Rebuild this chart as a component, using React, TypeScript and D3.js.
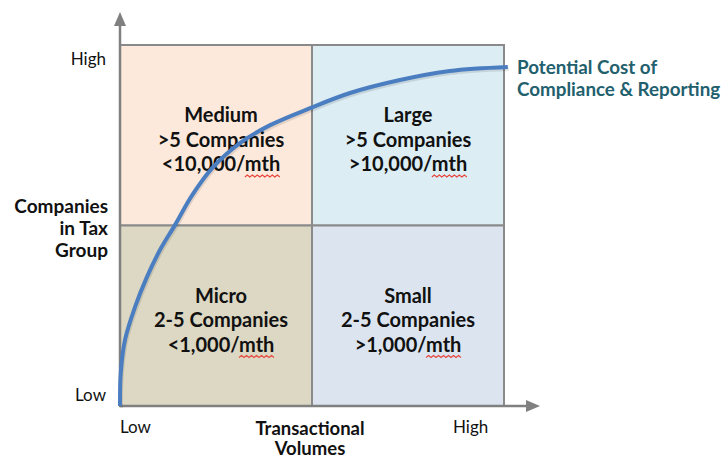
import React, { useEffect, useRef } from 'react';
import * as d3 from 'd3';

// quadrant cells: column / row index in the 2x2 grid
const cellNames = ['Medium', 'Large', 'Micro', 'Small'];
const cellCompanies = ['>5 Companies', '>5 Companies', '2-5 Companies', '2-5 Companies'];
const cellVolumes = ['<10,000/mth', '>10,000/mth', '<1,000/mth', '>1,000/mth'];
const cellCol = [0, 1, 0, 1];
const cellRow = [1, 1, 0, 0];
const cellColors = ['#FCE9DB', '#DCEDF4', '#DDD8C3', '#DCE5EF'];

const yTickLabels = ['Low', 'High'];
const xTickLabels = ['Low', 'High'];
const yTitle = ['Companies', 'in Tax', 'Group'];
const xTitle = ['Transactional', 'Volumes'];
const curveLabel = ['Potential Cost of', 'Compliance & Reporting'];

// cost curve (x: 0..10 volumes, y: 0..10 companies)
const curveX = [0, 0.02, 0.13, 0.39, 0.7, 1.04, 1.43, 1.88, 2.4, 3.13, 3.91, 4.95, 5.99, 7.29, 8.59, 10.1];
const curveY = [0, 0.91, 1.83, 2.74, 3.57, 4.32, 5.01, 5.84, 6.59, 7.29, 7.78, 8.25, 8.67, 9.03, 9.28, 9.39];

const W = 728;
const H = 459;
const FONT = 'Lato, "Open Sans", sans-serif';

const App: React.FC = () => {
  const svgRef = useRef<SVGSVGElement>(null);

  useEffect(() => {
    if (!svgRef.current) return;
    const svg = d3.select(svgRef.current).html('');

    const x = d3.scaleLinear().domain([0, 10]).range([120, 504]);
    const y = d3.scaleLinear().domain([0, 10]).range([406, 45]);
    const half = (v: number) => v * 5;

    // cells
    svg.selectAll('rect.cell')
      .data(cellNames)
      .join('rect')
      .attr('class', 'cell')
      .attr('x', (_, i) => x(half(cellCol[i])))
      .attr('y', (_, i) => y(half(cellRow[i] + 1)))
      .attr('width', x(5) - x(0))
      .attr('height', y(0) - y(5))
      .attr('fill', (_, i) => cellColors[i])
      .attr('stroke', '#8a8a8a')
      .attr('stroke-width', 2);

    // cell text
    const cellFont = 20;
    cellNames.forEach((name, i) => {
      const cx = x(half(cellCol[i]) + 2.5) + (cellCol[i] === 0 ? 5 : 0);
      const top = y(half(cellRow[i] + 1)) + 77;
      const lines = [name, cellCompanies[i], cellVolumes[i]];
      lines.forEach((t, j) => {
        const txt = svg.append('text')
          .attr('x', cx)
          .attr('y', top + j * 24.5)
          .attr('text-anchor', 'middle')
          .attr('font-family', FONT)
          .attr('font-weight', 'bold')
          .attr('font-size', cellFont)
          .attr('fill', '#111')
          .text(t);
        if (j === 2) {
          // spell-check squiggle under "mth"
          const full = (txt.node() as SVGTextElement).getComputedTextLength();
          const tmp = svg.append('text')
            .attr('font-family', FONT)
            .attr('font-weight', 'bold')
            .attr('font-size', cellFont)
            .text('mth');
          const mw = (tmp.node() as SVGTextElement).getComputedTextLength();
          tmp.remove();
          const x0 = cx + full / 2 - mw;
          const yy = top + j * 24.5 + 6;
          const wave: [number, number][] = [];
          for (let k = 0; k * 2.5 <= mw; k++) wave.push([x0 + k * 2.5, yy + (k % 2 === 0 ? 0 : -2)]);
          svg.append('path')
            .attr('d', d3.line()(wave) as string)
            .attr('fill', 'none')
            .attr('stroke', '#e8453c')
            .attr('stroke-width', 1.1);
        }
      });
    });

    // axes
    const axisColor = '#808080';
    svg.append('line')
      .attr('x1', x(0)).attr('y1', y(0)).attr('x2', x(0)).attr('y2', 22)
      .attr('stroke', axisColor).attr('stroke-width', 2.5);
    svg.append('path')
      .attr('d', `M${x(0) - 6},${26} L${x(0)},${12} L${x(0) + 6},${26} Z`)
      .attr('fill', axisColor);
    svg.append('line')
      .attr('x1', x(0)).attr('y1', y(0)).attr('x2', 530).attr('y2', y(0))
      .attr('stroke', axisColor).attr('stroke-width', 2.5);
    svg.append('path')
      .attr('d', `M${526},${y(0) - 6} L${540},${y(0)} L${526},${y(0) + 6} Z`)
      .attr('fill', axisColor);

    // curve
    const pts = curveX.map((v, i) => [v, curveY[i]] as [number, number]);
    const line = d3.line<[number, number]>()
      .x(d => x(d[0]))
      .y(d => y(d[1]))
      .curve(d3.curveCatmullRom);
    svg.append('path')
      .datum(pts)
      .attr('d', line)
      .attr('fill', 'none')
      .attr('stroke', 'rgba(0,0,0,0.1)')
      .attr('stroke-width', 4)
      .attr('transform', 'translate(1,2)');
    svg.append('path')
      .datum(pts)
      .attr('d', line)
      .attr('fill', 'none')
      .attr('stroke', '#4A7EC1')
      .attr('stroke-width', 4);

    // curve label
    curveLabel.forEach((t, i) => {
      svg.append('text')
        .attr('x', 517)
        .attr('y', 74 + i * 22)
        .attr('font-family', FONT)
        .attr('font-weight', 'bold')
        .attr('font-size', 18.8)
        .attr('fill', '#22606E')
        .text(t);
    });

    // tick labels
    const tickStyle = (s: d3.Selection<SVGTextElement, unknown, null, undefined>) =>
      s.attr('font-family', FONT).attr('font-size', 17).attr('fill', '#111');
    svg.append('text').attr('x', 106).attr('y', 401).attr('text-anchor', 'end').text(yTickLabels[0]).call(tickStyle);
    svg.append('text').attr('x', 106).attr('y', 65).attr('text-anchor', 'end').text(yTickLabels[1]).call(tickStyle);
    svg.append('text').attr('x', 120).attr('y', 433).text(xTickLabels[0]).call(tickStyle);
    svg.append('text').attr('x', 453).attr('y', 433).text(xTickLabels[1]).call(tickStyle);

    // titles
    yTitle.forEach((t, i) => {
      svg.append('text')
        .attr('x', 108)
        .attr('y', 213 + i * 22)
        .attr('text-anchor', 'end')
        .attr('font-family', FONT)
        .attr('font-weight', 'bold')
        .attr('font-size', 19)
        .attr('fill', '#111')
        .text(t);
    });
    xTitle.forEach((t, i) => {
      svg.append('text')
        .attr('x', 310)
        .attr('y', 435 + i * 20)
        .attr('text-anchor', 'middle')
        .attr('font-family', FONT)
        .attr('font-weight', 'bold')
        .attr('font-size', 18.5)
        .attr('fill', '#111')
        .text(t);
    });
  }, []);

  return (
    <svg
      ref={svgRef}
      width={W}
      height={H}
      style={{ position: 'absolute', left: 0, top: 0, background: '#fff' }}
    />
  );
};

export default App;
